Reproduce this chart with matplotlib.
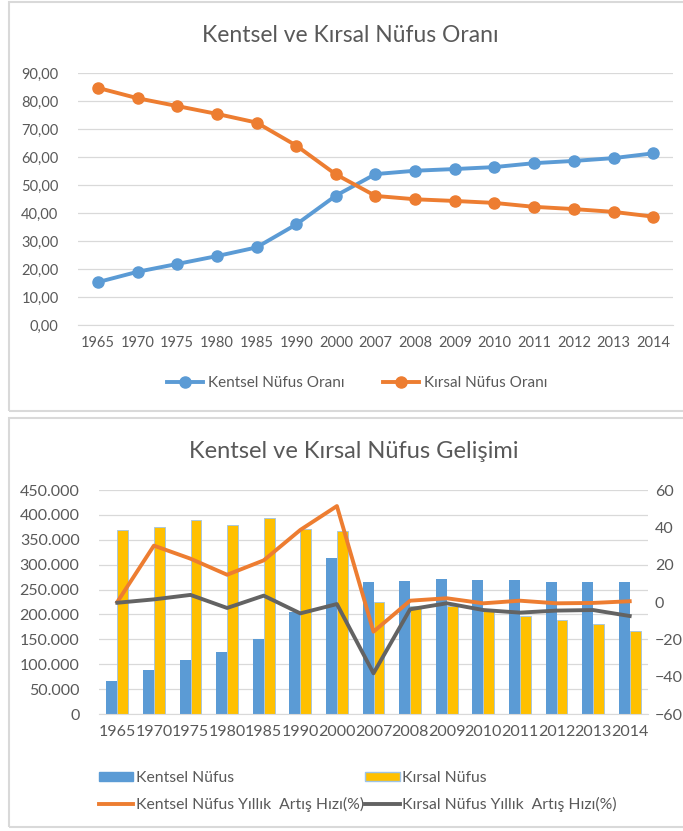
import matplotlib
matplotlib.use('Agg')
import matplotlib.pyplot as plt
from matplotlib.patches import Rectangle
from matplotlib.lines import Line2D
from matplotlib.patches import Patch
from matplotlib.ticker import FuncFormatter, MultipleLocator
import numpy as np

plt.rcParams['font.family'] = ['Lato', 'DejaVu Sans']

years = ['1965', '1970', '1975', '1980', '1985', '1990', '2000', '2007',
         '2008', '2009', '2010', '2011', '2012', '2013', '2014']

# oran (%)
kentsel_oran = [15.3, 19.0, 21.8, 24.6, 27.7, 35.9, 46.2, 53.9, 55.1, 55.7, 56.4, 57.8, 58.6, 59.6, 61.3]
kirsal_oran = [84.7, 81.0, 78.2, 75.4, 72.3, 64.1, 53.8, 46.1, 44.9, 44.3, 43.6, 42.2, 41.4, 40.4, 38.7]

# nüfus
kentsel_nufus = [67000, 89000, 109000, 124000, 151000, 204000, 314000, 265000,
                 267000, 271000, 269000, 269000, 265000, 265000, 265000]
kirsal_nufus = [370000, 376000, 390000, 380000, 393000, 371000, 367000, 226000,
                217000, 216000, 206000, 197000, 188000, 181000, 167000]

# yıllık artış hızı (%)
kentsel_artis = [0.0, 30.2, 23.2, 14.6, 22.3, 38.6, 51.4, -15.9, 0.7, 2.0, -0.7, 0.7, -0.7, -0.5, 0.4]
kirsal_artis = [-0.4, 1.4, 3.8, -3.2, 3.4, -6.1, -1.1, -38.2, -3.9, -0.7, -4.3, -5.7, -4.6, -4.3, -7.5]

BLUE = '#5B9BD5'
ORANGE = '#ED7D31'
YELLOW = '#FFC000'
GRAY = '#636363'
TXT = '#595959'
GRID = '#D9D9D9'

W, H = 683, 831
fig = plt.figure(figsize=(W / 100, H / 100), dpi=100)


def px(l, t, r, b):
    return [l / W, 1 - b / H, (r - l) / W, (b - t) / H]


# panel çerçeveleri
for (l, t, r, b) in [(9, 2, 690, 411), (9, 418, 690, 827)]:
    fig.patches.append(Rectangle((l / W, 1 - b / H), (r - l) / W, (b - t) / H,
                                 transform=fig.transFigure, fill=False,
                                 edgecolor=GRID, linewidth=1.5))


def style(ax):
    for s in ['top', 'right', 'left']:
        ax.spines[s].set_visible(False)
    ax.spines['bottom'].set_color(GRID)
    ax.tick_params(length=0, colors=TXT)
    ax.grid(axis='y', color=GRID, linewidth=0.9)
    ax.set_axisbelow(True)


# ---- üst grafik ----
x = np.arange(len(years))
ax1 = fig.add_axes(px(78, 73, 673, 325))
style(ax1)
ax1.plot(x, kentsel_oran, color=BLUE, linewidth=2.8, marker='o', markersize=8, label='Kentsel Nüfus Oranı')
ax1.plot(x, kirsal_oran, color=ORANGE, linewidth=2.8, marker='o', markersize=8, label='Kırsal Nüfus Oranı')
ax1.set_ylim(0, 90)
ax1.set_xlim(-0.5, len(years) - 0.5)
ax1.yaxis.set_major_locator(MultipleLocator(10))
ax1.yaxis.set_major_formatter(FuncFormatter(lambda v, p: f'{v:.2f}'.replace('.', ',')))
ax1.set_xticks(x)
ax1.set_xticklabels(years)
ax1.tick_params(axis='y', labelsize=10.5, pad=14)
ax1.tick_params(axis='x', labelsize=10.5, pad=8)
fig.text(350 / W, 1 - 36 / H, 'Kentsel ve Kırsal Nüfus Oranı', ha='center', va='center',
         fontsize=16.5, color=TXT)
ax1.legend(loc='center', bbox_to_anchor=(357 / W, 1 - 383 / H), bbox_transform=fig.transFigure,
           ncol=2, frameon=False, fontsize=11, labelcolor=TXT, handlelength=2.4,
           handletextpad=0.3, columnspacing=2.5)

# ---- alt grafik ----
ax2 = fig.add_axes(px(99, 490, 648, 714))
style(ax2)
bw = 0.3
ax2.bar(x - bw / 2, kentsel_nufus, width=bw, color=BLUE, label='Kentsel Nüfus')
ax2.bar(x + bw / 2, kirsal_nufus, width=bw, color=YELLOW, edgecolor='#9DC3E6', linewidth=0.6,
        label='Kırsal Nüfus')
ax2.set_ylim(0, 450000)
ax2.set_xlim(-0.5, len(years) - 0.5)
ax2.yaxis.set_major_locator(MultipleLocator(50000))
ax2.yaxis.set_major_formatter(FuncFormatter(lambda v, p: f'{int(v):,}'.replace(',', '.')))
ax2.set_xticks(x)
ax2.set_xticklabels(years)
ax2.tick_params(axis='y', labelsize=11.5, pad=14)
ax2.tick_params(axis='x', labelsize=11.5, pad=8)

ax3 = ax2.twinx()
ax3.plot(x, kentsel_artis, color=ORANGE, linewidth=2.8, label='Kentsel Nüfus Yıllık  Artış Hızı(%)')
ax3.plot(x, kirsal_artis, color=GRAY, linewidth=2.8, label='Kırsal Nüfus Yıllık  Artış Hızı(%)')
ax3.set_ylim(-60, 60)
ax3.yaxis.set_major_locator(MultipleLocator(20))
for s in ax3.spines.values():
    s.set_visible(False)
ax3.tick_params(length=0, colors=TXT, labelsize=11.5, pad=5)

fig.text(354 / W, 1 - 452 / H, 'Kentsel ve Kırsal Nüfus Gelişimi', ha='center', va='center',
         fontsize=17, color=TXT)

handles = [Patch(color=BLUE), Patch(facecolor=YELLOW, edgecolor='#9DC3E6'),
           Line2D([], [], color=ORANGE, linewidth=2.8), Line2D([], [], color=GRAY, linewidth=2.8)]
labels = ['Kentsel Nüfus', 'Kırsal Nüfus', 'Kentsel Nüfus Yıllık  Artış Hızı(%)',
          'Kırsal Nüfus Yıllık  Artış Hızı(%)']
fig.legend([handles[0], handles[2], handles[1], handles[3]],
           [labels[0], labels[2], labels[1], labels[3]],
           loc='upper left', bbox_to_anchor=(91 / W, 1 - 763 / H), ncol=2, frameon=False,
           borderpad=0, fontsize=11.3, labelcolor=TXT, handlelength=2.2, handletextpad=0.15,
           columnspacing=0.1, handleheight=0.55, labelspacing=0.75)

fig.savefig('out.png', dpi=100, facecolor='white')
